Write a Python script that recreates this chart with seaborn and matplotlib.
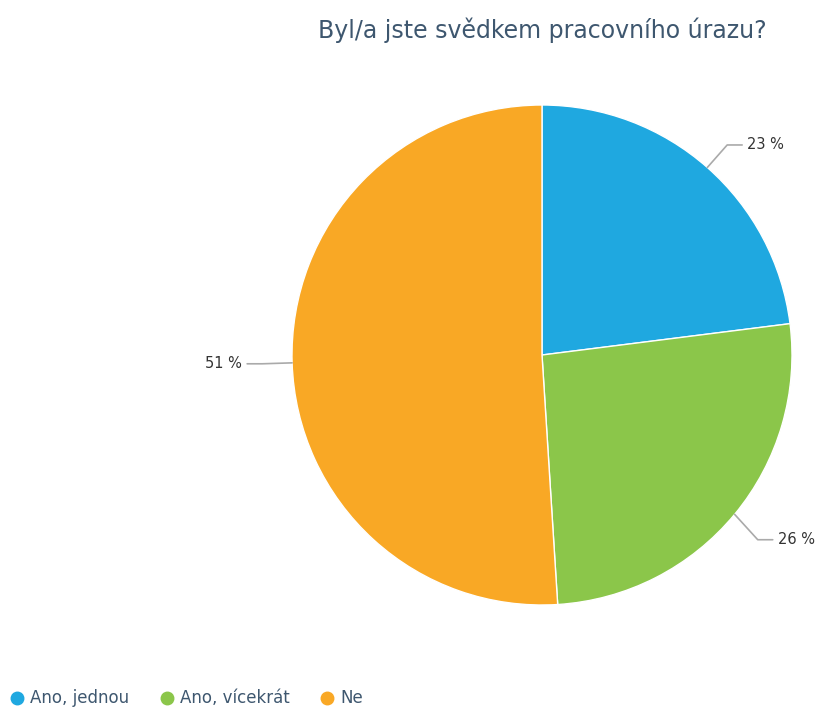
import numpy as np
import matplotlib
matplotlib.use("Agg")
import matplotlib.pyplot as plt
import seaborn as sns
from matplotlib.lines import Line2D

categories = ["Ano, jednou", "Ano, vícekrát", "Ne"]
values = [23, 26, 51]
colors = ["#1fa8e0", "#8bc64a", "#f9a825"]
title = "Byl/a jste svědkem pracovního úrazu?"

sns.set_theme(style="white")
plt.rcParams['font.family'] = ['DejaVu Sans']

W, H = 824, 707
cx, cy, R = 542, 355, 250
fig = plt.figure(figsize=(W / 100, H / 100), dpi=100)
ax = fig.add_axes([0, 0, 1, 1])
wedges, _ = ax.pie(values, colors=colors, startangle=90, counterclock=False,
                   radius=1, wedgeprops=dict(edgecolor="white", linewidth=1))
ax.set_xlim(-cx / R, (W - cx) / R)
ax.set_ylim((cy - H) / R, cy / R)
ax.set_aspect("equal")
ax.axis("off")

for w, v in zip(wedges, values):
    ang = np.deg2rad((w.theta1 + w.theta2) / 2)
    x0, y0 = np.cos(ang), np.sin(ang)
    x1, y1 = 1.12 * x0, 1.12 * y0
    if y0 < -0.3:
        y1 -= 0.025
    sgn = 1 if x0 >= 0 else -1
    x2 = x1 + sgn * 0.06
    ax.plot([x0 * 1.0, x1, x2], [y0, y1, y1], color="#aaaaaa", lw=1.2,
            solid_capstyle="round")
    ax.text(x2 + sgn * 0.02, y1, f"{v} %", ha="left" if sgn > 0 else "right",
            va="center", fontsize=10.5, color="#333333")

fig.text(cx / W, 1 - 30 / H, title, ha="center", va="center",
         fontsize=17, color="#3e576f")

handles = [Line2D([0], [0], marker="o", linestyle="", markersize=9,
                  markerfacecolor=c, markeredgecolor=c) for c in colors]
fig.legend(handles, categories, loc="lower left", bbox_to_anchor=(-0.004, -0.017),
           ncol=3, frameon=False, fontsize=12, handletextpad=0.3,
           columnspacing=1.75, labelcolor="#3e576f", handlelength=1.0,
           borderaxespad=0.3)

fig.savefig("out.png", dpi=100)
